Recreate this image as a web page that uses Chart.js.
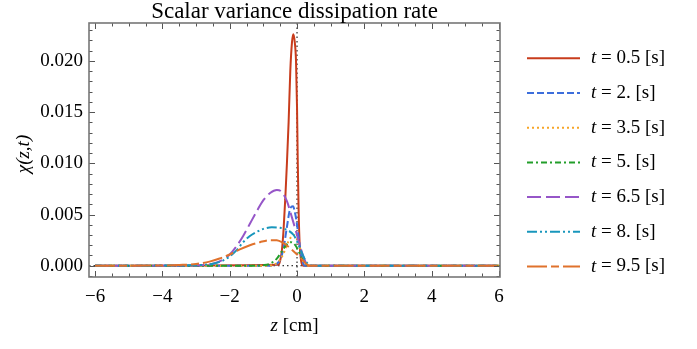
<!DOCTYPE html>
<html>
<head>
<meta charset="utf-8">
<script src="https://cdn.jsdelivr.net/npm/chart.js"></script>
<style>
html,body{margin:0;padding:0;background:#fff;}
canvas{display:block;}
</style>
</head>
<body>
<canvas id="c" width="697" height="349"></canvas>
<script>
// ---- data ----
const chartTitle = 'Scalar variance dissipation rate';
const times = ['0.5', '2.', '3.5', '5.', '6.5', '8.', '9.5'];

const z_t05 = [-6, -0.55, -0.5, -0.45, -0.4, -0.35, -0.3, -0.25, -0.2, -0.15, -0.11, -0.07, -0.03, 0.0, 0.02, 0.05, 0.08, 0.12, 0.18, 6];
const chi_t05 = [0, 0.0001, 0.0005, 0.0015, 0.0035, 0.0065, 0.0100, 0.0140, 0.0190, 0.0218, 0.0226, 0.0219, 0.0200, 0.0155, 0.0105, 0.0050, 0.0020, 0.0005, 0, 0];

const z_t2 = [-6, -0.8, -0.6, -0.5, -0.4, -0.3, -0.2, -0.12, -0.05, 0.0, 0.05, 0.1, 0.15, 0.2, 0.25, 6];
const chi_t2 = [0, 0, 0.0002, 0.0006, 0.0017, 0.0038, 0.0056, 0.0058, 0.0050, 0.0040, 0.0027, 0.0015, 0.0006, 0.0001, 0, 0];

const z_t35 = [-6, -0.9, -0.7, -0.55, -0.4, -0.25, -0.1, 0.0, 0.1, 0.2, 0.3, 0.4, 6];
const chi_t35 = [0, 0, 0.0001, 0.0004, 0.0012, 0.0024, 0.0030, 0.0027, 0.0016, 0.0006, 0.0001, 0, 0];

const z_t5 = [-6, -1.2, -1.0, -0.8, -0.6, -0.45, -0.3, -0.18, -0.05, 0.05, 0.15, 0.25, 0.35, 6];
const chi_t5 = [0, 0, 0.00005, 0.0002, 0.0007, 0.0014, 0.0021, 0.0023, 0.0020, 0.0014, 0.0007, 0.0002, 0, 0];

const z_t65 = [-6, -3.0, -2.5, -2.2, -2.0, -1.8, -1.6, -1.4, -1.2, -1.0, -0.8, -0.6, -0.45, -0.3, -0.15, 0.0, 0.1, 0.2, 0.3, 0.4, 6];
const chi_t65 = [0, 0.00003, 0.0002, 0.0006, 0.0011, 0.0019, 0.0029, 0.0041, 0.0053, 0.0064, 0.0071, 0.0074, 0.0072, 0.0063, 0.0047, 0.0030, 0.0018, 0.0008, 0.0001, 0, 0];

const z_t8 = [-6, -3.0, -2.5, -2.2, -2.0, -1.8, -1.6, -1.4, -1.2, -1.0, -0.75, -0.5, -0.3, -0.1, 0.05, 0.15, 0.25, 0.35, 0.45, 6];
const chi_t8 = [0, 0.00005, 0.0002, 0.0005, 0.0009, 0.0015, 0.0023, 0.0029, 0.0033, 0.0036, 0.00375, 0.0037, 0.0035, 0.0030, 0.0020, 0.0012, 0.0005, 0.0001, 0, 0];

const z_t95 = [-6, -4.0, -3.5, -3.0, -2.6, -2.3, -2.0, -1.7, -1.4, -1.1, -0.8, -0.6, -0.4, -0.2, 0.0, 0.15, 0.3, 0.4, 6];
const chi_t95 = [0, 0.00002, 0.00007, 0.00017, 0.0004, 0.0007, 0.0011, 0.0016, 0.0020, 0.0023, 0.0025, 0.0025, 0.0022, 0.0017, 0.0011, 0.0006, 0.0001, 0, 0];

const xTickValues = [-6, -4, -2, 0, 2, 4, 6];
const xTickLabels = ['\u22126', '\u22124', '\u22122', '0', '2', '4', '6'];
const yTickValues = [0, 0.005, 0.010, 0.015, 0.020];
const yTickLabels = ['0.000', '0.005', '0.010', '0.015', '0.020'];

// ---- styling ----
const SERIF = "'Liberation Serif','Times New Roman',serif";
const seriesZ = [z_t05, z_t2, z_t35, z_t5, z_t65, z_t8, z_t95];
const seriesChi = [chi_t05, chi_t2, chi_t35, chi_t5, chi_t65, chi_t8, chi_t95];
const colors = ['#c83c1c', '#3c6edc', '#f8a526', '#229e2a', '#9656c8', '#1896bc', '#e0722c'];
const dashes = [[], [7, 3], [2, 3], [6, 3, 2, 3], [14, 5], [10, 3, 2, 3, 2, 3], [20, 4, 8, 4]];

const datasets = seriesZ.map((zs, i) => ({
  label: 't = ' + times[i] + ' [s]',
  data: zs.map((z, k) => ({x: z, y: seriesChi[i][k]})),
  borderColor: colors[i],
  backgroundColor: colors[i],
  borderWidth: 2,
  borderDash: dashes[i],
  pointRadius: 0,
  fill: false,
  cubicInterpolationMode: 'monotone',
  order: seriesZ.length - i
}));

const decor = {
  id: 'decor',
  beforeDatasetsDraw(chart) {
    const {ctx, chartArea: a, scales: {x, y}} = chart;
    ctx.save();
    ctx.strokeStyle = '#000';
    ctx.lineWidth = 1;
    ctx.setLineDash([1.5, 3]);
    const x0 = x.getPixelForValue(0), y0 = y.getPixelForValue(0);
    ctx.beginPath();
    ctx.moveTo(x0, a.top); ctx.lineTo(x0, a.bottom);
    ctx.moveTo(a.left, y0); ctx.lineTo(a.right, y0);
    ctx.stroke();
    ctx.restore();
  },
  afterDatasetsDraw(chart) {
    const {ctx, chartArea: a, scales: {x, y}} = chart;
    ctx.save();
    ctx.strokeStyle = '#555';
    ctx.lineWidth = 1;
    ctx.setLineDash([]);
    ctx.beginPath();
    for (let v = -6; v <= 6.001; v += 0.5) {
      const px = Math.round(x.getPixelForValue(v)) + 0.5;
      const major = Math.abs(v / 2 - Math.round(v / 2)) < 1e-6;
      const len = major ? 6 : 3.5;
      ctx.moveTo(px, a.bottom); ctx.lineTo(px, a.bottom - len);
      ctx.moveTo(px, a.top); ctx.lineTo(px, a.top + len);
    }
    for (let k = -1; k <= 23; k++) {
      const v = k * 0.001;
      const py = Math.round(y.getPixelForValue(v)) + 0.5;
      const major = k % 5 === 0;
      const len = major ? 6 : 3.5;
      ctx.moveTo(a.left, py); ctx.lineTo(a.left + len, py);
      ctx.moveTo(a.right, py); ctx.lineTo(a.right - len, py);
    }
    ctx.stroke();
    ctx.strokeStyle = '#777';
    ctx.lineWidth = 1.6;
    ctx.strokeRect(a.left, a.top, a.right - a.left, a.bottom - a.top);
    ctx.restore();
  },
  afterDraw(chart) {
    const {ctx, chartArea: a} = chart;
    ctx.save();
    ctx.fillStyle = '#000';
    const cx = (a.left + a.right) / 2;
    // title
    ctx.textAlign = 'center';
    ctx.textBaseline = 'alphabetic';
    ctx.font = '23px ' + SERIF;
    ctx.fillText(chartTitle, cx, 18);
    ctx.textBaseline = 'middle';
    // x axis title: italic z + " [cm]"
    ctx.font = 'italic 19px ' + SERIF;
    const wz = ctx.measureText('z').width;
    ctx.font = '19px ' + SERIF;
    const wr = ctx.measureText(' [cm]').width;
    let sx = cx - (wz + wr) / 2;
    ctx.textAlign = 'left';
    ctx.font = 'italic 19px ' + SERIF;
    ctx.fillText('z', sx, 326);
    ctx.font = '19px ' + SERIF;
    ctx.fillText(' [cm]', sx + wz, 326);
    // y axis title
    ctx.save();
    ctx.translate(24, 154);
    ctx.rotate(-Math.PI / 2);
    ctx.textAlign = 'center';
    ctx.font = 'italic 19px ' + SERIF;
    ctx.fillText('\u03C7(z,t)', 0, 0);
    ctx.restore();
    // legend
    for (let i = 0; i < times.length; i++) {
      const ly = 58.3 + i * 34.7;
      ctx.strokeStyle = colors[i];
      ctx.lineWidth = 2;
      ctx.setLineDash(dashes[i]);
      ctx.beginPath();
      ctx.moveTo(527, ly); ctx.lineTo(580, ly);
      ctx.stroke();
      ctx.setLineDash([]);
      ctx.textAlign = 'left';
      ctx.font = 'italic 19px ' + SERIF;
      ctx.fillText('t', 591, ly);
      const wt = ctx.measureText('t').width;
      ctx.font = '19px ' + SERIF;
      ctx.fillText(' = ' + times[i] + ' [s]', 591 + wt, ly);
    }
    ctx.restore();
  }
};

new Chart(document.getElementById('c'), {
  type: 'line',
  data: {datasets},
  options: {
    responsive: false,
    animation: false,
    devicePixelRatio: 1,
    layout: {padding: {left: 0, top: 23, right: 197, bottom: 0}},
    plugins: {
      legend: {display: false},
      tooltip: {enabled: false},
      title: {display: false}
    },
    scales: {
      x: {
        type: 'linear',
        min: -6.18, max: 6.03,
        grid: {display: false, drawTicks: false},
        border: {display: false},
        afterBuildTicks(s) { s.ticks = xTickValues.map(v => ({value: v})); },
        afterFit(s) { s.height = 72; },
        ticks: {
          color: '#000',
          padding: 9,
          maxRotation: 0,
          font: {family: SERIF, size: 19},
          callback: (v) => { const i = xTickValues.indexOf(v); return i >= 0 ? xTickLabels[i] : ''; }
        }
      },
      y: {
        type: 'linear',
        min: -0.0011, max: 0.0237,
        grid: {display: false, drawTicks: false},
        border: {display: false},
        afterBuildTicks(s) { s.ticks = yTickValues.map(v => ({value: v})); },
        afterFit(s) { s.width = 89; },
        ticks: {
          color: '#000',
          padding: 6,
          font: {family: SERIF, size: 19},
          callback: (v) => { const i = yTickValues.findIndex(t => Math.abs(t - v) < 1e-9); return i >= 0 ? yTickLabels[i] : ''; }
        }
      }
    }
  },
  plugins: [decor]
});
</script>
</body>
</html>
